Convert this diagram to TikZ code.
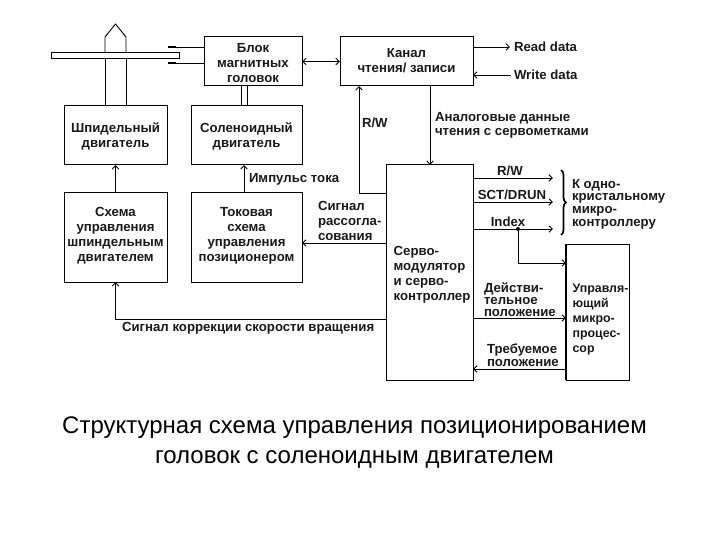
\documentclass[tikz,border=0pt]{standalone}
\usepackage{fontspec}
\setmainfont{Liberation Sans}
\usetikzlibrary{arrows.meta,decorations.pathreplacing}
\tikzset{
  lbl/.style={font=\fontsize{13.2}{15}\selectfont\bfseries,inner sep=0pt,outer sep=0pt,align=left,text=black!90},
  box/.style={draw,line width=1pt,anchor=north west,inner sep=0pt,outer sep=0pt,align=center,font=\fontsize{13.2}{15}\selectfont\bfseries,text=black!90},
  conn/.style={line width=0.9pt,-{Straight Barb[length=3.5pt,width=6.5pt]}},
  plain/.style={line width=0.9pt}
}
\begin{document}
\begin{tikzpicture}[x=1pt,y=-1pt]
\useasboundingbox (0,0) rectangle (720,540);
% boxes
\node[box,minimum width=98pt,minimum height=49pt] (blok) at (204,37) {\rule{0pt}{11.5pt}Блок\\магнитных\\головок};
\node[box,minimum width=133pt,minimum height=49pt,text depth=3pt] (kanal) at (340,37) {Канал\\чтения/ записи};
\node[box,minimum width=103pt,minimum height=59pt] (shp) at (64,106) {\rule{0pt}{11.5pt}Шпидельный\\двигатель};
\node[box,minimum width=111pt,minimum height=59pt] (sol) at (191,106) {\rule{0pt}{11.5pt}Соленоидный\\двигатель};
\node[box,minimum width=103pt,minimum height=89pt,text depth=7pt] (shema) at (64,193) {Схема\\управления\\шпиндельным\\двигателем};
\node[box,minimum width=111pt,minimum height=89pt,text depth=7pt] (tok) at (191,193) {Токовая\\схема\\управления\\позиционером};
\node[box,minimum width=87pt,minimum height=215pt,align=left] (servo) at (386,165) {\rule{0pt}{13.5pt}\hspace*{5pt}Серво-\\\hspace*{5pt}модулятор\\\hspace*{5pt}и серво-\\\hspace*{5pt}контроллер};
\node[box,minimum width=63pt,minimum height=136pt,align=left,font=\fontsize{12.4}{15}\selectfont\bfseries] (upr) at (566,244) {\rule{0pt}{23.5pt}\hspace*{6pt}Управля-\\\hspace*{6pt}ющий\\\hspace*{6pt}микро-\\\hspace*{6pt}процес-\\\hspace*{6pt}сор};
\draw[line width=1.8pt] (upr.north west) -- (upr.south west);
% disk, spindle
\node[draw,line width=1pt,minimum width=128pt,minimum height=6pt,inner sep=0pt,outer sep=0pt,anchor=north west] (disk) at (51,53) {};
\coordinate (spTop) at (115.5,24);
\coordinate (spL) at (105,37);
\coordinate (spR) at (126,37);
\draw[plain] (spL |- disk.north) -- (spL) -- (spTop) -- (spR) -- (spR |- disk.north);
\draw[plain] (spL |- disk.south) -- (spL |- shp.north);
\draw[plain] (spR |- disk.south) -- (spR |- shp.north);
% heads
\coordinate (h1) at (176,47);
\coordinate (h2) at (176,63);
\draw[line width=1.6pt] (168,47) -- (h1);
\draw[line width=1.6pt] (168,63) -- (h2);
\draw[plain] (h1) -- (h1 -| blok.west);
\draw[plain] (h2) -- (h2 -| blok.west);
% double line
\draw[plain] (241,86) -- (241,106);
\draw[plain] (247,86) -- (247,106);
% connectors
\draw[line width=0.9pt,{Straight Barb[length=3.5pt,width=6.5pt]}-{Straight Barb[length=3.5pt,width=6.5pt]}] (blok.east) coordinate (ba) -- (ba -| kanal.west);
\coordinate (rd) at (510,47);
\coordinate (wd) at (511,75);
\draw[conn] (rd -| kanal.east) -- (rd);
\draw[conn] (wd) -- (wd -| kanal.east);
\draw[conn] (servo.west |- 0,193) -- (359,193) -- (359,86);
\draw[conn] (430,86) -- (430,165);
\draw[conn] (shema.north) -- (shp.south);
\draw[conn] (244,193) -- (244,165);
\draw[conn] (servo.west |- 0,243) -- (tok.east |- 0,243);
\draw[conn] (servo.west |- 0,319) -- (115.5,319) -- (shema.south);
\draw[conn] (servo.east |- 0,178) -- (553,178);
\draw[conn] (servo.east |- 0,202) -- (553,202);
\draw[conn] (servo.east |- 0,229) -- (553,229);
\coordinate (dot) at (518,229);
\fill (dot) circle (2pt);
\draw[conn] (dot) -- (518,263) -- (upr.west |- 0,263);
\draw[conn] (servo.east |- 0,318) -- (upr.west |- 0,318);
\draw[conn] (upr.west |- 0,369) -- (servo.east |- 0,369);
% brace
\coordinate (brA) at (561,170);
\coordinate (brB) at (561,235);
\draw[line width=1.7pt,decorate,decoration={brace,amplitude=5pt}] (brA) -- (brB);
% labels
\node[lbl,anchor=west] (l1) at (514,47) {Read data};
\node[lbl,anchor=west] (l2) at (514,75) {Write data};
\node[lbl,anchor=west] (l3) at (362,123) {R/W};
\node[lbl,anchor=north west,font=\fontsize{13.2}{14.5}\selectfont\bfseries] (l4) at (435,112) {Аналоговые данные\\чтения с сервометками};
\node[lbl,anchor=base] (l5) at (510,176) {R/W};
\node[lbl,anchor=base] (l6) at (512,200) {SCT/DRUN};
\node[lbl,anchor=base] (l7) at (508,226) {Index};
\node[lbl,anchor=north west,font=\fontsize{13.2}{12.7}\selectfont\bfseries] (l8) at (572,179) {К одно-\\кристальному\\микро-\\контроллеру};
\node[lbl,anchor=north west,font=\fontsize{13.2}{12.3}\selectfont\bfseries] (l9) at (484,282.5) {Действи-\\тельное\\положение};
\node[lbl,anchor=north west,font=\fontsize{13.2}{12.5}\selectfont\bfseries] (l10) at (487,344) {Требуемое\\положение};
\node[lbl,anchor=west] (l11) at (249,179) {Импульс тока};
\node[lbl,anchor=north west] (l12) at (318,201.5) {Сигнал\\рассогла-\\сования};
\node[lbl,anchor=west] (l13) at (122,328) {Сигнал коррекции скорости вращения};
% caption
\node[font=\fontsize{24}{30}\selectfont,align=center,inner sep=0pt,anchor=north] (cap) at (354.5,416.5) {Структурная схема управления позиционированием\\головок с соленоидным двигателем};
\end{tikzpicture}
\end{document}
